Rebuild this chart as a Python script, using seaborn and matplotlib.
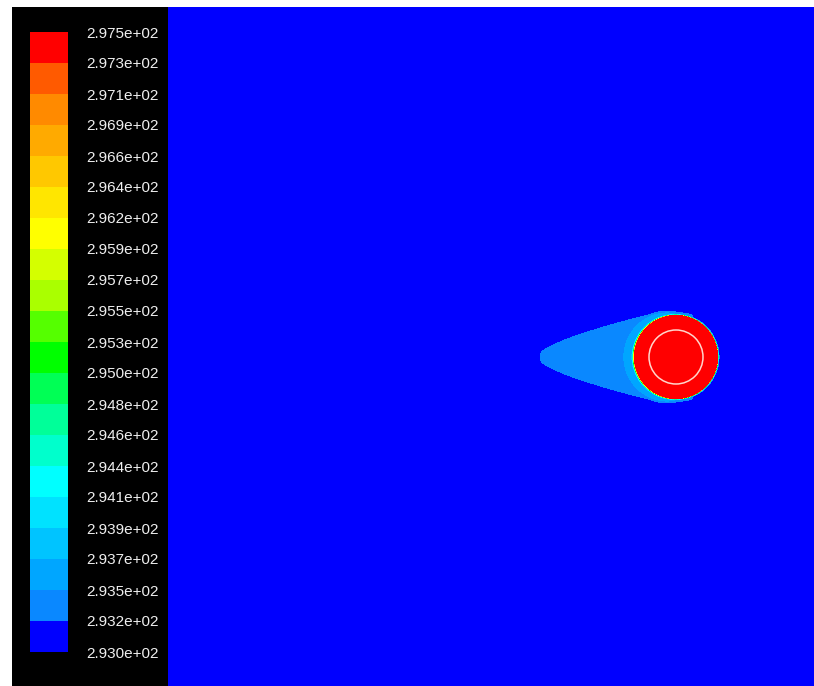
import numpy as np
import seaborn as sns
import matplotlib
matplotlib.use('Agg')
import matplotlib.pyplot as plt
from matplotlib.colors import ListedColormap, BoundaryNorm
from matplotlib.cm import ScalarMappable

# contour levels (K) as printed on the legend, bottom -> top
levels = [293.0, 293.2, 293.5, 293.7, 293.9, 294.1, 294.4, 294.6, 294.8, 295.0,
          295.3, 295.5, 295.7, 295.9, 296.2, 296.4, 296.6, 296.9, 297.1, 297.3, 297.5]
# band colours, bottom -> top (fluent rainbow)
band_colors = ['#0000ff', '#0a88ff', '#00a6ff', '#00c4ff', '#00e2ff',
               '#00ffff', '#00ffcc', '#00ff99', '#00ff55', '#00ff00',
               '#55ff00', '#aaff00', '#d4ff00', '#ffff00', '#ffe600',
               '#ffc800', '#ffaa00', '#ff8a00', '#ff5a00', '#ff0000']

# geometry of the heated cylinder and its warm plume (field pixels)
field_rows, field_cols = 679, 646
cyl_x, cyl_y = 508, 350
cyl_r = 42
inner_r = 27
wake_tip, wake_full = 372, 485
wake_tip_half, wake_half = 4, 44
T_cyl, T_wake, T_near, T_amb = 297.45, 293.35, 293.6, 293.0


def sig(v):
    return 1.0 / (1.0 + np.exp(-v))


# temperature field
X, Y = np.meshgrid(np.arange(field_cols) + 0.5, np.arange(field_rows) + 0.5)
r = np.hypot(X - cyl_x, Y - cyl_y)
cos_t = (X - cyl_x) / np.maximum(r, 1e-6)
left = np.clip(-cos_t, 0, 1)

s = np.clip((X - wake_tip) / (wake_full - wake_tip), 0, 1)
half = wake_tip_half + (wake_half - wake_tip_half) * s ** 0.7
wake = sig((half - np.abs(Y - cyl_y)) / 0.7) * sig((X - wake_tip) / 0.7) * sig((cyl_x + 18 - X) / 3)
T1 = T_amb + (T_wake - T_amb) * wake

near_th = 3 + 9 * left
T2 = T_amb + (T_near - T_amb) * sig((cyl_r + near_th - r) / 0.8) * sig((cyl_x + 10 - X) / 4)

delta = 0.5 + 0.9 * left
T3 = T_amb + (T_cyl - T_amb) * np.exp(-np.clip(r - cyl_r, 0, None) / delta)

T = np.maximum(np.maximum(T1, T2), T3)
T[r <= cyl_r] = T_cyl

sns.set_theme(style='white')
plt.rcParams['font.family'] = ['Liberation Sans', 'DejaVu Sans']

cmap = ListedColormap(sns.color_palette(band_colors))
norm = BoundaryNorm(levels, cmap.N)

W, H = 814, 686
fig = plt.figure(figsize=(W / 100, H / 100), dpi=100)
fig.patch.set_facecolor('white')

panel = fig.add_axes([12 / W, 0, 156 / W, 679 / H])
panel.set_facecolor('black')
panel.set_xticks([])
panel.set_yticks([])
for sp in panel.spines.values():
    sp.set_visible(False)

ax = fig.add_axes([168 / W, 0, 646 / W, 679 / H])
sns.heatmap(T, ax=ax, cmap=cmap, norm=norm, cbar=False,
            xticklabels=False, yticklabels=False, rasterized=True)
ax.add_patch(plt.Circle((cyl_x, cyl_y), inner_r, fill=False, ec='#ffd6cc', lw=1.1))

cax = fig.add_axes([30 / W, 34 / H, 38 / W, 620 / H])
cb = fig.colorbar(ScalarMappable(norm=norm, cmap=cmap), cax=cax, ticks=levels)
cb.outline.set_visible(False)
cb.ax.set_yticklabels([f'{v:.3e}' for v in levels])
cb.ax.tick_params(length=0, pad=13.0, labelsize=11, labelcolor='#eeeeee')

fig.savefig('out.png', dpi=100)
